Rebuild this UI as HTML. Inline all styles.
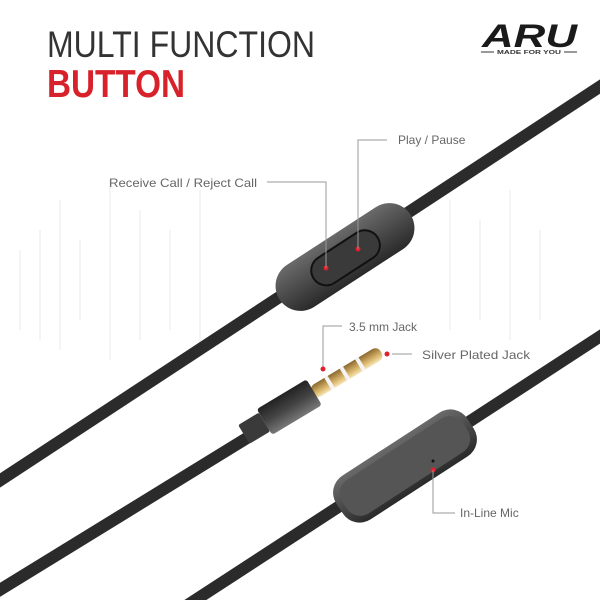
<!DOCTYPE html>
<html><head><meta charset="utf-8"><style>
html,body{margin:0;padding:0;background:#fff;}
svg{display:block;}
text{font-family:"Liberation Sans",sans-serif;}
</style></head><body>
<svg width="600" height="600" viewBox="0 0 600 600" xmlns="http://www.w3.org/2000/svg">
<defs>
<linearGradient id="gold" x1="0" y1="0" x2="0" y2="1">
<stop offset="0" stop-color="#f7e6b8"/><stop offset="0.4" stop-color="#d9b46a"/><stop offset="1" stop-color="#8a6a30"/>
</linearGradient>
<linearGradient id="barrel" x1="0" y1="0" x2="0" y2="1">
<stop offset="0" stop-color="#777"/><stop offset="0.5" stop-color="#444"/><stop offset="1" stop-color="#222"/>
</linearGradient>
<linearGradient id="rem" x1="0" y1="0" x2="0" y2="1">
<stop offset="0" stop-color="#6a6a6a"/><stop offset="0.5" stop-color="#4a4a4a"/><stop offset="1" stop-color="#2a2a2a"/>
</linearGradient>
</defs>
<rect width="600" height="600" fill="#fff"/>
<!-- faint waveform -->
<g stroke="#f6f3f3" stroke-width="2">
<line x1="20" y1="250" x2="20" y2="330"/><line x1="40" y1="230" x2="40" y2="340"/><line x1="60" y1="200" x2="60" y2="350"/>
<line x1="80" y1="240" x2="80" y2="320"/><line x1="110" y1="180" x2="110" y2="360"/><line x1="140" y1="210" x2="140" y2="340"/>
<line x1="170" y1="230" x2="170" y2="330"/><line x1="200" y1="190" x2="200" y2="350"/><line x1="450" y1="200" x2="450" y2="330"/>
<line x1="480" y1="220" x2="480" y2="320"/><line x1="510" y1="190" x2="510" y2="340"/><line x1="540" y1="230" x2="540" y2="320"/>
</g>

<!-- Title -->
<text x="47" y="57" font-size="37" fill="#333" textLength="268" lengthAdjust="spacingAndGlyphs" font-weight="300">MULTI FUNCTION</text>
<text x="47" y="97" font-size="39" fill="#d7222b" font-weight="bold" textLength="138" lengthAdjust="spacingAndGlyphs">BUTTON</text>

<!-- Logo -->
<text x="482" y="47" font-size="32" font-weight="bold" font-style="italic" fill="#1a1a1a" textLength="95" lengthAdjust="spacingAndGlyphs">ARU</text>
<line x1="481" y1="52" x2="494" y2="52" stroke="#333" stroke-width="1"/>
<line x1="564" y1="52" x2="577" y2="52" stroke="#333" stroke-width="1"/>
<text x="497" y="54" font-size="5" font-weight="bold" fill="#333" textLength="64" lengthAdjust="spacingAndGlyphs">MADE FOR YOU</text>

<!-- Cable 1 -->
<line x1="610" y1="80" x2="-10" y2="487" stroke="#2b2b2b" stroke-width="12"/>
<!-- Cable 2 (jack) -->
<line x1="260" y1="430" x2="-10" y2="596" stroke="#2b2b2b" stroke-width="12"/>
<!-- Cable 3 -->
<line x1="610" y1="330" x2="180" y2="610" stroke="#2b2b2b" stroke-width="12"/>

<!-- top remote -->
<g transform="translate(345,257) rotate(-33)">
<rect x="-78" y="-25" width="156" height="50" rx="25" fill="url(#rem)"/>
<rect x="-38" y="-14" width="76" height="30" rx="15" fill="#3a3a3a" stroke="#111" stroke-width="2"/>
</g>
<circle cx="326" cy="268" r="2.5" fill="#e0202a"/>
<circle cx="358" cy="249" r="2.5" fill="#e0202a"/>

<!-- jack -->
<g transform="translate(381,352) rotate(149)">
<rect x="0" y="-7" width="80" height="14" rx="6" fill="url(#gold)"/>
<rect x="22" y="-7" width="4" height="14" fill="#f4f4f4"/>
<rect x="40" y="-7" width="4" height="14" fill="#f4f4f4"/>
<rect x="58" y="-7" width="4" height="14" fill="#f4f4f4"/>
<rect x="78" y="-15" width="58" height="30" rx="3" fill="url(#barrel)"/>
<rect x="136" y="-11" width="24" height="22" rx="2" fill="#3a3a3a"/>
</g>

<!-- mic remote -->
<g transform="translate(405,466) rotate(-33)">
<rect x="-78" y="-26" width="156" height="52" rx="20" fill="url(#rem)"/>
<rect x="-72" y="-20" width="144" height="40" rx="16" fill="#555"/>
</g>
<circle cx="433" cy="461" r="1.5" fill="#111"/>
<circle cx="433" cy="470" r="2.5" fill="#e0202a"/>

<!-- callouts -->
<g stroke="#999" stroke-width="1" fill="none">
<polyline points="387,140 358,140 358,249"/>
<polyline points="267,182 326,182 326,268"/>
<polyline points="342,326 323,326 323,369"/>
<polyline points="392,354 412,354"/>
<polyline points="433,470 433,513 455,513"/>
</g>
<circle cx="323" cy="369" r="2.5" fill="#e0202a"/>
<circle cx="387" cy="354" r="2.5" fill="#e0202a"/>
<g font-size="12" fill="#666">
<text x="398" y="144">Play / Pause</text>
<text x="109" y="187" textLength="148" lengthAdjust="spacingAndGlyphs">Receive Call / Reject Call</text>
<text x="349" y="331">3.5 mm Jack</text>
<text x="422" y="359" textLength="108" lengthAdjust="spacingAndGlyphs">Silver Plated Jack</text>
<text x="460" y="517">In-Line Mic</text>
</g>
</svg>
</body></html>
